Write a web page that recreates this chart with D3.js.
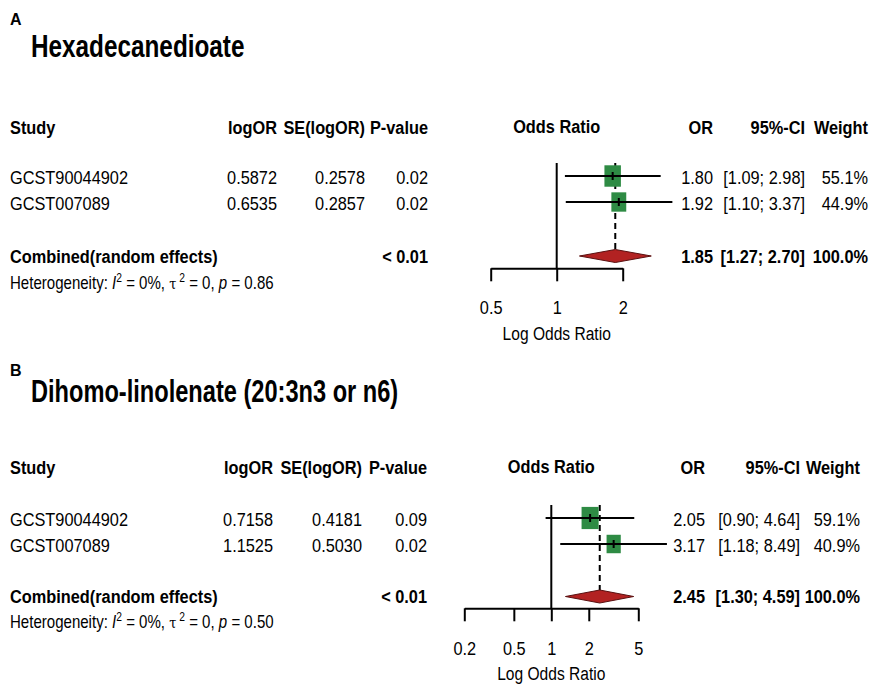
<!DOCTYPE html>
<html>
<head>
<meta charset="utf-8">
<script src="https://cdn.jsdelivr.net/npm/d3@7"></script>
<style>
  html, body { margin: 0; padding: 0; background: #fff; }
  svg { display: block; }
  text { font-family: 'Liberation Sans', Arial, sans-serif; fill: #000; }
</style>
</head>
<body>
<svg id="chart" width="871" height="684"></svg>
<script>
// ---------------- DATA ----------------
const panelLetters = ["A", "B"];
const panelTitles = ["Hexadecanedioate", "Dihomo-linolenate (20:3n3 or n6)"];
const studyNames = ["GCST90044902", "GCST007089"];

// Panel A
const logOR_A = [0.5872, 0.6535];
const seLogOR_A = [0.2578, 0.2857];
const pValue_A = ["0.02", "0.02"];
const or_A = [1.80, 1.92];
const ciLow_A = [1.09, 1.10];
const ciHigh_A = [2.98, 3.37];
const weight_A = [55.1, 44.9];
const combined_A = { or: 1.85, low: 1.27, high: 2.70, p: "< 0.01", i2: "0%", tau2: "0", hetP: "0.86" };
const ticks_A = [0.5, 1, 2];

// Panel B
const logOR_B = [0.7158, 1.1525];
const seLogOR_B = [0.4181, 0.5030];
const pValue_B = ["0.09", "0.02"];
const or_B = [2.05, 3.17];
const ciLow_B = [0.90, 1.18];
const ciHigh_B = [4.64, 8.49];
const weight_B = [59.1, 40.9];
const combined_B = { or: 2.45, low: 1.30, high: 4.59, p: "< 0.01", i2: "0%", tau2: "0", hetP: "0.50" };
const ticks_B = [0.2, 0.5, 1, 2, 5];

// ---------------- LAYOUT ----------------
const layouts = [
  { letterY: 25, titleY: 57, titleSX: 0.76, headY: 127, rowY: [177, 203], combY: 256, hetY: 283,
    colLog: 277, colSE: 365, colP: 428, colOR: 713, colCI: 805, colW: 868,
    xRange: [490.7, 622.7], axisY: 268.3, refTop: 163, tickPad: 19, axisTitleY: 333 },
  { letterY: 376, titleY: 402, titleSX: 0.738, headY: 467, rowY: [519, 545], combY: 596.5, hetY: 621.5,
    colLog: 273, colSE: 362, colP: 427, colOR: 705, colCI: 800, colW: 860,
    xRange: [464.3, 638.3], axisY: 608.3, refTop: 505, tickPad: 20, axisTitleY: 673 }
];

const panels = [
  { logOR: logOR_A, se: seLogOR_A, p: pValue_A, or: or_A, lo: ciLow_A, hi: ciHigh_A, w: weight_A, comb: combined_A, ticks: ticks_A },
  { logOR: logOR_B, se: seLogOR_B, p: pValue_B, or: or_B, lo: ciLow_B, hi: ciHigh_B, w: weight_B, comb: combined_B, ticks: ticks_B }
];

const FS = 19;      // body font size
const SX = 0.86;    // horizontal condensation (narrow face look)
const svg = d3.select("#chart");
const f4 = d3.format(".4f"), f2 = d3.format(".2f"), f1 = d3.format(".1f");

function txt(g, x, y, s, opts = {}) {
  return g.append("text")
    .attr("transform", `translate(${x},${y}) scale(${opts.sx || SX},1)`)
    .attr("dy", "0.36em")
    .attr("text-anchor", opts.anchor || "start")
    .attr("font-size", opts.size || FS)
    .attr("font-weight", opts.bold ? "bold" : "normal")
    .text(s);
}

panels.forEach((d, k) => {
  const L = layouts[k];
  const g = svg.append("g");

  // Letter & title
  g.append("text").attr("x", 10).attr("y", L.letterY).attr("font-size", 16)
    .attr("font-weight", "bold").text(panelLetters[k]);
  g.append("text").attr("transform", `translate(31,${L.titleY}) scale(${L.titleSX},1)`)
    .attr("font-size", 32).attr("font-weight", "bold").text(panelTitles[k]);

  // Header
  txt(g, 10, L.headY, "Study", { bold: true });
  txt(g, L.colLog, L.headY, "logOR", { bold: true, anchor: "end" });
  txt(g, L.colSE, L.headY, "SE(logOR)", { bold: true, anchor: "end" });
  txt(g, L.colP, L.headY, "P-value", { bold: true, anchor: "end" });
  txt(g, L.colOR, L.headY, "OR", { bold: true, anchor: "end" });
  txt(g, L.colCI, L.headY, "95%-CI", { bold: true, anchor: "end" });
  txt(g, L.colW, L.headY, "Weight", { bold: true, anchor: "end" });

  // Scale
  const x = d3.scaleLog().base(2).domain([d.ticks[0], d.ticks[d.ticks.length - 1]]).range(L.xRange);
  txt(g, x(1), L.headY - 1, "Odds Ratio", { bold: true, anchor: "middle" });

  // Rows text
  studyNames.forEach((name, i) => {
    const y = L.rowY[i];
    txt(g, 10, y, name);
    txt(g, L.colLog, y, f4(d.logOR[i]), { anchor: "end" });
    txt(g, L.colSE, y, f4(d.se[i]), { anchor: "end" });
    txt(g, L.colP, y, d.p[i], { anchor: "end" });
    txt(g, L.colOR, y, f2(d.or[i]), { anchor: "end" });
    txt(g, L.colCI, y, "[" + f2(d.lo[i]) + "; " + f2(d.hi[i]) + "]", { anchor: "end" });
    txt(g, L.colW, y, f1(d.w[i]) + "%", { anchor: "end" });
  });

  // Combined row
  txt(g, 10, L.combY, "Combined(random effects)", { bold: true });
  txt(g, L.colP, L.combY, d.comb.p, { bold: true, anchor: "end" });
  txt(g, L.colOR, L.combY, f2(d.comb.or), { bold: true, anchor: "end" });
  txt(g, L.colCI, L.combY, "[" + f2(d.comb.low) + "; " + f2(d.comb.high) + "]", { bold: true, anchor: "end" });
  txt(g, L.colW, L.combY, "100.0%", { bold: true, anchor: "end" });

  // Heterogeneity
  const het = g.append("text").attr("transform", `translate(10,${L.hetY}) scale(${SX},1)`)
    .attr("dy", "0.36em").attr("font-size", 17.5);
  het.append("tspan").text("Heterogeneity: ");
  het.append("tspan").attr("font-style", "italic").text("I");
  het.append("tspan").attr("font-size", 12).attr("dy", -7).text("2");
  het.append("tspan").attr("dy", 7).text(" = " + d.comb.i2 + ", ");
  het.append("tspan").style("font-family", "'DejaVu Serif', serif").attr("font-size", 15).text("\u03C4");
  het.append("tspan").attr("font-size", 12).attr("dy", -7).text(" 2");
  het.append("tspan").attr("dy", 7).text(" = " + d.comb.tau2 + ", ");
  het.append("tspan").attr("font-style", "italic").text("p");
  het.append("tspan").text(" = " + d.comb.hetP);

  // Reference line at OR = 1
  g.append("line").attr("x1", x(1)).attr("x2", x(1)).attr("y1", L.refTop).attr("y2", L.axisY)
    .attr("stroke", "#000").attr("stroke-width", 2);

  // Dashed combined line
  g.append("line").attr("x1", x(d.comb.or)).attr("x2", x(d.comb.or))
    .attr("y1", L.refTop).attr("y2", L.combY - 6)
    .attr("stroke", "#000").attr("stroke-width", 2).attr("stroke-dasharray", "6,4");

  // Squares + whiskers
  const sw = v => 22.2 * Math.sqrt(v / 100);
  studyNames.forEach((name, i) => {
    const y = L.rowY[i] - 1;
    const w = sw(d.w[i]), h = w * 1.3;
    g.append("rect").attr("x", x(d.or[i]) - w / 2).attr("y", y - h / 2)
      .attr("width", w).attr("height", h).attr("fill", "#2e8b44");
    g.append("line").attr("x1", x(d.lo[i])).attr("x2", x(d.hi[i])).attr("y1", y).attr("y2", y)
      .attr("stroke", "#000").attr("stroke-width", 2);
    g.append("line").attr("x1", x(d.or[i])).attr("x2", x(d.or[i])).attr("y1", y - 4).attr("y2", y + 4)
      .attr("stroke", "#000").attr("stroke-width", 2);
  });

  // Diamond
  const cy = L.combY, dh = 6.5;
  const pts = [[x(d.comb.low), cy], [x(d.comb.or), cy - dh], [x(d.comb.high), cy], [x(d.comb.or), cy + dh]];
  g.append("path").attr("d", "M" + pts.map(p => p.join(",")).join("L") + "Z")
    .attr("fill", "#b22222").attr("stroke", "#5a1010").attr("stroke-width", 1);

  // Axis
  const axis = d3.axisBottom(x).tickValues(d.ticks).tickFormat(v => String(v))
    .tickSize(13).tickSizeOuter(0).tickPadding(L.tickPad);
  const ag = g.append("g").attr("transform", `translate(0,${L.axisY})`).call(axis);
  ag.select(".domain").attr("stroke", "#000").attr("stroke-width", 2);
  ag.selectAll(".tick line").attr("stroke", "#000").attr("stroke-width", 2);
  ag.selectAll(".tick text").attr("font-size", FS).attr("fill", "#000")
    .attr("transform", `scale(${SX},1)`)
    .style("font-family", "'Liberation Sans', Arial, sans-serif");
  txt(g, x(1), L.axisTitleY, "Log Odds Ratio", { anchor: "middle", sx: 0.82 });
});
</script>
</body>
</html>
